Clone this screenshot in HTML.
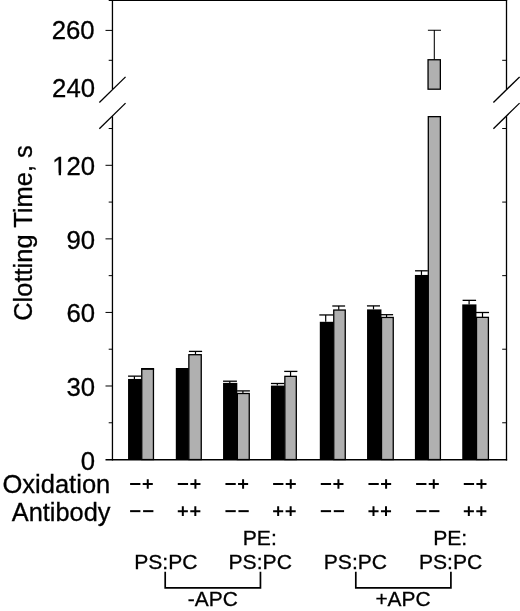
<!DOCTYPE html>
<html><head><meta charset="utf-8"><style>html,body{margin:0;padding:0;background:#fff}svg{display:block;will-change:transform}text{font-family:"Liberation Sans",sans-serif;fill:#000;stroke:#000;stroke-width:.3px}</style></head><body>
<svg width="520" height="611" viewBox="0 0 520 611">
<rect width="520" height="611" fill="#fff"/>
<g stroke="#000" stroke-width="1.3" fill="none" stroke-linecap="butt">
<line x1="108.7" y1="0.3" x2="507.15" y2="0.3" stroke-width="1.3"/>
<line x1="112.45" y1="0" x2="112.45" y2="89.3"/>
<line x1="112.45" y1="116.3" x2="112.45" y2="460.45"/>
<line x1="506.5" y1="0" x2="506.5" y2="89.3"/>
<line x1="506.5" y1="116.3" x2="506.5" y2="460.45"/>
<line x1="105.5" y1="459.8" x2="507.15" y2="459.8" stroke-width="1.4"/>
</g>
<g stroke="#000" stroke-width="1.0" fill="none">
<line x1="105.5" y1="30.40" x2="112.45" y2="30.40"/>
<line x1="105.5" y1="165.31" x2="112.45" y2="165.31"/>
<line x1="105.5" y1="238.87" x2="112.45" y2="238.87"/>
<line x1="105.5" y1="312.43" x2="112.45" y2="312.43"/>
<line x1="105.5" y1="385.99" x2="112.45" y2="385.99"/>
<line x1="108.7" y1="60.30" x2="112.45" y2="60.30"/>
<line x1="502.2" y1="60.30" x2="506.5" y2="60.30"/>
<line x1="108.7" y1="128.53" x2="112.45" y2="128.53"/>
<line x1="502.2" y1="128.53" x2="506.5" y2="128.53"/>
<line x1="108.7" y1="202.09" x2="112.45" y2="202.09"/>
<line x1="502.2" y1="202.09" x2="506.5" y2="202.09"/>
<line x1="108.7" y1="275.65" x2="112.45" y2="275.65"/>
<line x1="502.2" y1="275.65" x2="506.5" y2="275.65"/>
<line x1="108.7" y1="349.21" x2="112.45" y2="349.21"/>
<line x1="502.2" y1="349.21" x2="506.5" y2="349.21"/>
<line x1="108.7" y1="422.77" x2="112.45" y2="422.77"/>
<line x1="502.2" y1="422.77" x2="506.5" y2="422.77"/>
</g>
<g stroke="#000" stroke-width="1.3" fill="none">
<line x1="99.35000000000001" y1="102.5" x2="125.55" y2="76.9"/>
<line x1="99.35000000000001" y1="128.70000000000002" x2="125.55" y2="103.10000000000001"/>
<line x1="493.4" y1="102.5" x2="519.6" y2="76.9"/>
<line x1="493.4" y1="128.70000000000002" x2="519.6" y2="103.10000000000001"/>
</g>
<rect x="128.05" y="378.95" width="13.65" height="80.60" fill="#000"/>
<path d="M128.05 376.15H141.30" stroke="#000" stroke-width="1.3" fill="none"/><path d="M134.40 376.15V378.95" stroke="#000" stroke-width="1.2" fill="none"/>
<rect x="141.75" y="368.65" width="11.70" height="90.90" fill="#b0b0b0" stroke="#000" stroke-width="1.3"/>
<line x1="141.10" y1="369.20" x2="154.10" y2="369.20" stroke="#000" stroke-width="1.2"/>
<rect x="175.80" y="368.0" width="13.00" height="91.55" fill="#000"/>
<rect x="188.85" y="354.70" width="12.40" height="104.85" fill="#b0b0b0" stroke="#000" stroke-width="1.3"/>
<path d="M188.90 351.4H202.10" stroke="#000" stroke-width="1.3" fill="none"/><path d="M195.50 351.4V354.35" stroke="#000" stroke-width="1.2" fill="none"/>
<rect x="223.05" y="382.9" width="14.25" height="76.65" fill="#000"/>
<path d="M223.05 381.2H236.90" stroke="#000" stroke-width="1.3" fill="none"/><path d="M229.80 381.2V382.9" stroke="#000" stroke-width="1.2" fill="none"/>
<rect x="237.35" y="393.50" width="11.90" height="66.05" fill="#b0b0b0" stroke="#000" stroke-width="1.3"/>
<path d="M237.10 390.9H249.90" stroke="#000" stroke-width="1.3" fill="none"/><path d="M242.90 390.9V393.15000000000003" stroke="#000" stroke-width="1.2" fill="none"/>
<rect x="270.95" y="385.6" width="13.85" height="73.95" fill="#000"/>
<path d="M270.95 383.5H284.40" stroke="#000" stroke-width="1.3" fill="none"/><path d="M277.30 383.5V385.6" stroke="#000" stroke-width="1.2" fill="none"/>
<rect x="284.85" y="376.35" width="11.45" height="83.20" fill="#b0b0b0" stroke="#000" stroke-width="1.3"/>
<path d="M284.20 371.4H297.40" stroke="#000" stroke-width="1.3" fill="none"/><path d="M290.55 371.4V376.0" stroke="#000" stroke-width="1.2" fill="none"/>
<rect x="319.80" y="321.8" width="13.90" height="137.75" fill="#000"/>
<path d="M319.30 314.95H333.10" stroke="#000" stroke-width="1.3" fill="none"/><path d="M325.70 314.95V321.8" stroke="#000" stroke-width="1.2" fill="none"/>
<rect x="333.75" y="310.05" width="11.50" height="149.50" fill="#b0b0b0" stroke="#000" stroke-width="1.3"/>
<path d="M332.30 306.0H345.10" stroke="#000" stroke-width="1.3" fill="none"/><path d="M338.75 306.0V309.7" stroke="#000" stroke-width="1.2" fill="none"/>
<rect x="367.05" y="309.4" width="14.40" height="150.15" fill="#000"/>
<path d="M366.95 305.9H380.00" stroke="#000" stroke-width="1.3" fill="none"/><path d="M373.50 305.9V309.4" stroke="#000" stroke-width="1.2" fill="none"/>
<rect x="381.50" y="317.45" width="11.75" height="142.10" fill="#b0b0b0" stroke="#000" stroke-width="1.3"/>
<path d="M380.85 314.7H393.10" stroke="#000" stroke-width="1.3" fill="none"/><path d="M386.55 314.7V317.1" stroke="#000" stroke-width="1.2" fill="none"/>
<rect x="414.90" y="274.95" width="13.35" height="184.60" fill="#000"/>
<path d="M415.05 270.8H427.80" stroke="#000" stroke-width="1.3" fill="none"/><path d="M421.45 270.8V274.95" stroke="#000" stroke-width="1.2" fill="none"/>
<rect x="428.30" y="116.65" width="12.10" height="342.90" fill="#b0b0b0" stroke="#000" stroke-width="1.3"/>
<rect x="462.25" y="304.4" width="14.20" height="155.15" fill="#000"/>
<path d="M462.60 300.35H476.10" stroke="#000" stroke-width="1.3" fill="none"/><path d="M469.10 300.35V304.4" stroke="#000" stroke-width="1.2" fill="none"/>
<rect x="476.50" y="317.35" width="11.90" height="142.20" fill="#b0b0b0" stroke="#000" stroke-width="1.3"/>
<path d="M475.85 312.5H489.05" stroke="#000" stroke-width="1.3" fill="none"/><path d="M482.50 312.5V317.0" stroke="#000" stroke-width="1.2" fill="none"/>
<rect x="428.05" y="59.75" width="12.30" height="29.45" fill="#b0b0b0" stroke="#000" stroke-width="1.3"/>
<path d="M427.9 30.2H441.0M434.3 30.2V59.5" stroke="#000" stroke-width="1.05" fill="none"/>
<text transform="translate(94.60,38.85) scale(1.03,1)" font-size="25" text-anchor="end">260</text>
<text transform="translate(95.00,97.15) scale(1.03,1)" font-size="25" text-anchor="end">240</text>
<text transform="translate(95.10,175.26) scale(1.03,1)" font-size="25" text-anchor="end">120</text>
<text transform="translate(95.10,248.82) scale(1.03,1)" font-size="25" text-anchor="end">90</text>
<text transform="translate(95.10,322.38) scale(1.03,1)" font-size="25" text-anchor="end">60</text>
<text transform="translate(95.10,395.94) scale(1.03,1)" font-size="25" text-anchor="end">30</text>
<text transform="translate(95.10,469.50) scale(1.03,1)" font-size="25" text-anchor="end">0</text>
<rect x="52" y="172.81" width="6.72" height="3.4" fill="#fff"/><rect x="61" y="172.81" width="5.5" height="3.4" fill="#fff"/>
<text transform="translate(32.3,233.0) rotate(-90) scale(1.02,1)" font-size="25" text-anchor="middle">Clotting Time, s</text>
<text transform="translate(110.30,493.10) scale(1.022,1)" font-size="25" text-anchor="end">Oxidation</text>
<text transform="translate(110.50,521.10) scale(1.015,1)" font-size="25" text-anchor="end">Antibody</text>
<g stroke="#000" stroke-width="2" fill="none">
<line x1="130.10" y1="484.0" x2="140.40" y2="484.0"/>
<path d="M142.70 484.0h10.1M147.75 479.15v9.7"/>
<line x1="130.10" y1="511.15" x2="140.40" y2="511.15"/>
<line x1="143.10" y1="511.15" x2="153.40" y2="511.15"/>
<line x1="177.77" y1="484.0" x2="188.07" y2="484.0"/>
<path d="M190.37 484.0h10.1M195.42 479.15v9.7"/>
<path d="M177.77 511.15h10.1M182.82 506.30v9.7"/>
<path d="M190.27 511.15h10.1M195.32 506.30v9.7"/>
<line x1="225.44" y1="484.0" x2="235.74" y2="484.0"/>
<path d="M238.04 484.0h10.1M243.09 479.15v9.7"/>
<line x1="225.44" y1="511.15" x2="235.74" y2="511.15"/>
<line x1="238.44" y1="511.15" x2="248.74" y2="511.15"/>
<line x1="273.11" y1="484.0" x2="283.41" y2="484.0"/>
<path d="M285.71 484.0h10.1M290.76 479.15v9.7"/>
<path d="M273.11 511.15h10.1M278.16 506.30v9.7"/>
<path d="M285.61 511.15h10.1M290.66 506.30v9.7"/>
<line x1="320.78" y1="484.0" x2="331.08" y2="484.0"/>
<path d="M333.38 484.0h10.1M338.43 479.15v9.7"/>
<line x1="320.78" y1="511.15" x2="331.08" y2="511.15"/>
<line x1="333.78" y1="511.15" x2="344.08" y2="511.15"/>
<line x1="368.45" y1="484.0" x2="378.75" y2="484.0"/>
<path d="M381.05 484.0h10.1M386.10 479.15v9.7"/>
<path d="M368.45 511.15h10.1M373.50 506.30v9.7"/>
<path d="M380.95 511.15h10.1M386.00 506.30v9.7"/>
<line x1="416.12" y1="484.0" x2="426.42" y2="484.0"/>
<path d="M428.72 484.0h10.1M433.77 479.15v9.7"/>
<line x1="416.12" y1="511.15" x2="426.42" y2="511.15"/>
<line x1="429.12" y1="511.15" x2="439.42" y2="511.15"/>
<line x1="463.79" y1="484.0" x2="474.09" y2="484.0"/>
<path d="M476.39 484.0h10.1M481.44 479.15v9.7"/>
<path d="M463.79 511.15h10.1M468.84 506.30v9.7"/>
<path d="M476.29 511.15h10.1M481.34 506.30v9.7"/>
</g>
<text transform="translate(165.80,568.90) scale(1.03,1)" font-size="20.5" text-anchor="middle">PS:PC</text>
<text transform="translate(260.20,568.90) scale(1.03,1)" font-size="20.5" text-anchor="middle">PS:PC</text>
<text transform="translate(259.80,545.10) scale(1.03,1)" font-size="20.5" text-anchor="middle">PE:</text>
<text transform="translate(355.40,568.90) scale(1.03,1)" font-size="20.5" text-anchor="middle">PS:PC</text>
<text transform="translate(450.60,568.90) scale(1.03,1)" font-size="20.5" text-anchor="middle">PS:PC</text>
<text transform="translate(450.20,545.10) scale(1.03,1)" font-size="20.5" text-anchor="middle">PE:</text>
<text transform="translate(212.80,606.40) scale(1.02,1)" font-size="20.5" text-anchor="middle">-APC</text>
<text transform="translate(403.00,606.40) scale(1.02,1)" font-size="20.5" text-anchor="middle">+APC</text>
<g stroke="#000" stroke-width="1.7" fill="none">
<polyline points="165.2,571.8 165.2,587.8 260.45,587.8 260.45,571.8"/>
<polyline points="355.8,571.8 355.8,587.8 450.9,587.8 450.9,571.8"/>
</g>
</svg></body></html>
